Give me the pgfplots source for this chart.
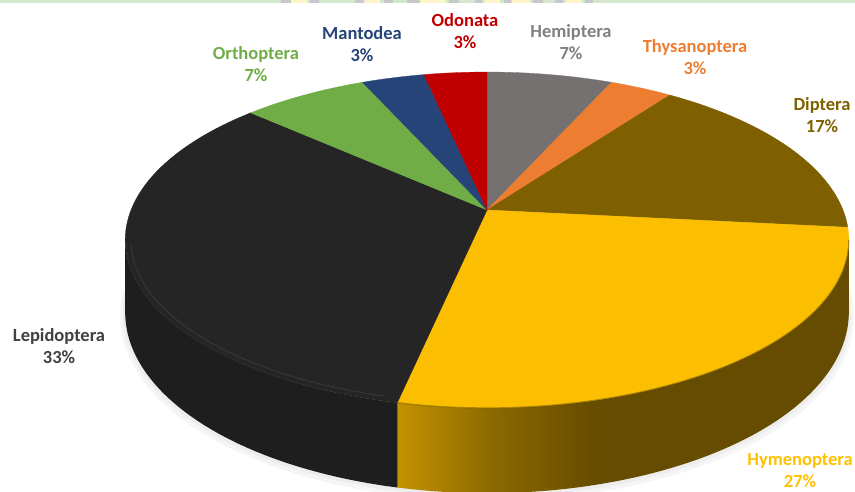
\documentclass[border=0pt]{standalone}
\usepackage{pgfplots}
\usepackage{pgfplotstable}
\pgfplotsset{compat=1.18}
\usepackage{fontspec}
\setmainfont{Carlito}

\definecolor{cHemi}{HTML}{767171}
\definecolor{cThys}{HTML}{ED7D31}
\definecolor{cDipt}{HTML}{7F6000}
\definecolor{cHyme}{HTML}{FBBE00}
\definecolor{cLepi}{HTML}{252525}
\definecolor{cOrth}{HTML}{70AD47}
\definecolor{cMant}{HTML}{264478}
\definecolor{cOdon}{HTML}{C00000}
\definecolor{lHemi}{HTML}{7F7F7F}
\definecolor{lLepi}{HTML}{404040}
\definecolor{lHyme}{HTML}{FFC000}
\definecolor{hs1}{HTML}{C39200}
\definecolor{hs2}{HTML}{8A6800}
\definecolor{hs3}{HTML}{664C00}
\definecolor{lside}{HTML}{1E1E1E}
\definecolor{bandG}{HTML}{D3E8CF}
\definecolor{bandY}{HTML}{FFF4C8}
\definecolor{bandK}{HTML}{C8C8C8}

\pgfdeclarehorizontalshading{hymside}{100bp}{color(0bp)=(hs1); color(25bp)=(hs1); color(36bp)=(hs2); color(47bp)=(hs3); color(100bp)=(hs3)}

% number of species per order, clockwise from 12 o'clock
\pgfplotstableread{
name count col
Hemiptera 2 cHemi
Thysanoptera 1 cThys
Diptera 5 cDipt
Hymenoptera 8 cHyme
Lepidoptera 10 cLepi
Orthoptera 2 cOrth
Mantodea 1 cMant
Odonata 1 cOdon
}\insects

\def\total{0}%
\pgfplotstableforeachcolumnelement{count}\of\insects\as\cnt{%
  \pgfmathsetmacro\tmp{\total+\cnt}\xdef\total{\tmp}}%
\def\cumang{0}%
\pgfplotstableforeachcolumnelement{count}\of\insects\as\cnt{%
  \pgfmathsetmacro\tmp{\cumang+360*\cnt/\total}%
  \expandafter\xdef\csname angA\pgfplotstablerow\endcsname{\cumang}%
  \expandafter\xdef\csname angB\pgfplotstablerow\endcsname{\tmp}%
  \xdef\cumang{\tmp}}%
\pgfplotstableforeachcolumnelement{col}\of\insects\as\cc{%
  \expandafter\xdef\csname col\pgfplotstablerow\endcsname{\cc}}%
\pgfmathsetmacro\tanA{acos(-0.1786)}%
\pgfmathsetmacro\tanB{360-\tanA}%
\pgfmathsetmacro\sHa{max(\csname angA3\endcsname,\tanA)}%
\pgfmathsetmacro\sHb{min(\csname angB3\endcsname,\tanB)}%
\pgfmathsetmacro\sLa{max(\csname angA4\endcsname,\tanA)}%
\pgfmathsetmacro\sLb{min(\csname angB4\endcsname,\tanB)}%

\newcommand\band[3]{\fill[#3] (axis cs:#1,488) rectangle (axis cs:#2,491);}

\begin{document}
\begin{tikzpicture}[every node/.style={font=\bfseries\fontsize{18.5}{22}\selectfont, align=center}]
\begin{axis}[width=855pt, height=491pt, scale only axis, hide axis,
  xmin=0, xmax=855, ymin=0, ymax=491, clip=false,
  declare function={
    PX(\q)=487+356*sin(\q)/(1+0.1786*cos(\q));
    PY(\q,\h)=281+(162.6*cos(\q)-\h)/(1+0.1786*cos(\q));
    TH(\s,\a,\b)=\a+(\b-\a)*(min(\s,1)-max(\s-2,0));
    HH(\s)=70*min(max(\s-1,0),1);
    SX(\s,\a,\b)=PX(TH(\s,\a,\b));
    SY(\s,\a,\b)=PY(TH(\s,\a,\b),HH(\s));
  }]
% top band
\band{0}{855}{bandG}
\band{281}{291}{bandK}\band{291}{307}{bandY}\band{310}{319}{bandK}
\band{355}{363}{bandK}\band{365}{380}{bandY}\band{384}{393}{bandK}
\band{407}{420}{bandK}\band{420}{446}{bandY}\band{449}{459}{bandK}
\band{475}{482}{bandK}\band{485}{500}{bandY}\band{504}{511}{bandK}
\band{512}{530}{bandY}\band{533}{543}{bandK}\band{555}{563}{bandK}
\band{566}{582}{bandY}\band{585}{593}{bandK}
% soft shadow
\addplot[draw=none, fill=black!4, domain=0:360, samples=181]
  ({487+1.014*356*sin(x)/(1+0.1786*cos(x))},{281+(1.014*162.6*cos(x)-74)/(1+0.1786*cos(x))}) -- cycle;
\addplot[draw=none, fill=black!7, domain=0:360, samples=181]
  ({487+1.006*356*sin(x)/(1+0.1786*cos(x))},{281+(1.006*162.6*cos(x)-72)/(1+0.1786*cos(x))}) -- cycle;
% sides
\addplot[draw=none, shade, shading=hymside, domain=0:3, samples=301]
  ({SX(x,\sHa,\sHb)},{SY(x,\sHa,\sHb)}) -- cycle;
\addplot[draw=none, fill=lside, domain=0:3, samples=301]
  ({SX(x,\sLa,\sLb)},{SY(x,\sLa,\sLb)}) -- cycle;
% top faces
\pgfplotsinvokeforeach{0,...,7}{%
  \edef\temp{\noexpand\addplot[draw=\csname col#1\endcsname, line width=0.3pt,
    fill=\csname col#1\endcsname,
    domain=\csname angA#1\endcsname:\csname angB#1\endcsname, samples=90]
    ({PX(x)},{PY(x,0)}) -- (axis cs:487,281) -- cycle;}%
  \temp}
% bevel highlight near the front rim
\addplot[draw=black!70!white, line width=1pt, opacity=0.45, domain=\sLa+2:\sLb-2, samples=90]
  ({487+0.985*356*sin(x)/(1+0.1786*cos(x))},{281+(0.975*162.6*cos(x))/(1+0.1786*cos(x))});
\addplot[draw=hs3, line width=1.2pt, opacity=0.5, domain=\sHa:\sHb, samples=90]
  ({487+356*sin(x)/(1+0.1786*cos(x))},{281+(162.6*cos(x))/(1+0.1786*cos(x))});
% labels
\node[text=cOdon] at (axis cs:465,460) {Odonata\\3\%};
\node[text=cMant] at (axis cs:362,447) {Mantodea\\3\%};
\node[text=lHemi] at (axis cs:571,449) {Hemiptera\\7\%};
\node[text=cThys] at (axis cs:695,434) {Thysanoptera\\3\%};
\node[text=cDipt] at (axis cs:822,376) {Diptera\\17\%};
\node[text=cOrth] at (axis cs:256,427) {Orthoptera\\7\%};
\node[text=lLepi] at (axis cs:59,145) {Lepidoptera\\33\%};
\node[text=lHyme] at (axis cs:800,20) {Hymenoptera\\27\%};
\end{axis}
\pgfresetboundingbox
\path[use as bounding box] (0,0) rectangle (855pt,491pt);
\end{tikzpicture}
\end{document}
